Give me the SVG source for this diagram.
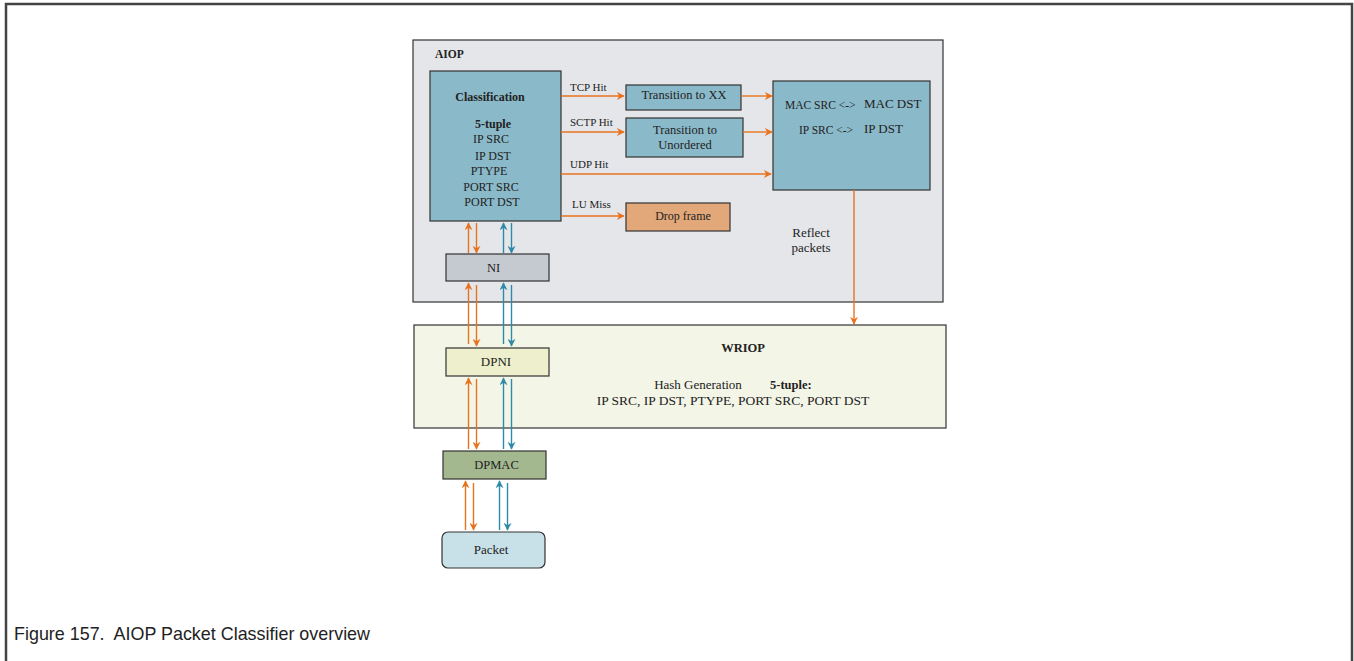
<svg xmlns="http://www.w3.org/2000/svg" width="1354" height="661" viewBox="0 0 1354 661">
<style>
.t{font-family:"Liberation Serif","Times New Roman",serif;fill:#222}
.b{font-weight:bold}
.box{stroke:#333;stroke-width:1.2}
.or{stroke:#e8731f;stroke-width:1.4;fill:none}
.bl{stroke:#2f8aa8;stroke-width:1.4;fill:none}
</style>
<defs>
<marker id="ao" viewBox="0 0 10 10" refX="9" refY="5" markerWidth="8" markerHeight="8" orient="auto" markerUnits="userSpaceOnUse"><path d="M0,0 L10,5 L0,10 L3,5 z" fill="#e8731f"/></marker>
<marker id="ab" viewBox="0 0 10 10" refX="9" refY="5" markerWidth="8" markerHeight="8" orient="auto" markerUnits="userSpaceOnUse"><path d="M0,0 L10,5 L0,10 L3,5 z" fill="#2f8aa8"/></marker>
</defs>
<rect width="1354" height="661" fill="#fff"/>
<path d="M6,661 V4 H1352 V661" fill="none" stroke="#444" stroke-width="2.5"/>

<g id="aiop">
<rect class="box" x="413" y="40" width="530" height="262" fill="#e5e6ea"/>
<text class="t b" x="435" y="58" font-size="11.5">AIOP</text>
</g>
<g id="wriop">
<rect class="box" x="414" y="325" width="532" height="103" fill="#f3f5e6"/>
<text class="t b" x="743" y="352" font-size="12.5" text-anchor="middle">WRIOP</text>
<text class="t" x="698" y="389" font-size="13" text-anchor="middle">Hash Generation</text>
<text class="t b" x="770" y="389" font-size="12.5">5-tuple:</text>
<text class="t" x="733" y="405" font-size="13.5" text-anchor="middle">IP SRC, IP DST, PTYPE, PORT SRC, PORT DST</text>
</g>
<g id="classification">
<rect class="box" x="430" y="71" width="131" height="150" fill="#8ab9c9"/>
<text class="t b" x="490" y="101" font-size="12" text-anchor="middle">Classification</text>
<text class="t b" x="493" y="128" font-size="12" text-anchor="middle">5-tuple</text>
<text class="t" x="491" y="143" font-size="12" text-anchor="middle">IP SRC</text>
<text class="t" x="493" y="160" font-size="12" text-anchor="middle">IP DST</text>
<text class="t" x="489" y="175" font-size="12" text-anchor="middle">PTYPE</text>
<text class="t" x="491" y="191" font-size="12" text-anchor="middle">PORT SRC</text>
<text class="t" x="492" y="206" font-size="12" text-anchor="middle">PORT DST</text>
</g>
<g id="trans-xx">
<rect class="box" x="626" y="85" width="115" height="25" fill="#8ab9c9"/>
<text class="t" x="684" y="99" font-size="12.5" text-anchor="middle">Transition to XX</text>
</g>
<g id="trans-unordered">
<rect class="box" x="626" y="118" width="117" height="39" fill="#8ab9c9"/>
<text class="t" x="685" y="134" font-size="12.5" text-anchor="middle">Transition to</text>
<text class="t" x="685" y="149" font-size="12.5" text-anchor="middle">Unordered</text>
</g>
<g id="drop-frame">
<rect class="box" x="626" y="203" width="104" height="28" fill="#e3a87a"/>
<text class="t" x="683" y="220" font-size="12" text-anchor="middle">Drop frame</text>
</g>
<g id="swap">
<rect class="box" x="773" y="81" width="157" height="109" fill="#8ab9c9"/>
<text class="t" x="785" y="109" font-size="11.5">MAC SRC &lt;-&gt;</text>
<text class="t" x="864" y="108" font-size="13">MAC DST</text>
<text class="t" x="799" y="134" font-size="11.5">IP SRC &lt;-&gt;</text>
<text class="t" x="864" y="133" font-size="13">IP DST</text>
</g>
<g id="reflect-label">
<text class="t" x="811" y="237" font-size="13" text-anchor="middle">Reflect</text>
<text class="t" x="811" y="252" font-size="13" text-anchor="middle">packets</text>
</g>
<g id="ni">
<rect class="box" x="446" y="254" width="103" height="27" fill="#c5c9d0"/>
<text class="t" x="493.5" y="272" font-size="12.5" text-anchor="middle">NI</text>
</g>
<g id="dpni">
<rect class="box" x="446" y="348" width="103" height="28" fill="#eef0cd"/>
<text class="t" x="496" y="366" font-size="13" text-anchor="middle">DPNI</text>
</g>
<g id="dpmac">
<rect class="box" x="443" y="451" width="103" height="28" fill="#a3b88f"/>
<text class="t" x="496.5" y="469" font-size="12.5" text-anchor="middle">DPMAC</text>
</g>
<g id="packet">
<rect class="box" x="442" y="532" width="103" height="36" rx="6" fill="#c8e1e9"/>
<text class="t" x="491" y="554" font-size="13" text-anchor="middle">Packet</text>
</g>

<g id="connectors">
<line class="or" x1="561" y1="96" x2="624" y2="96" marker-end="url(#ao)"/>
<line class="or" x1="561" y1="132" x2="624" y2="132" marker-end="url(#ao)"/>
<line class="or" x1="561" y1="174" x2="771" y2="174" marker-end="url(#ao)"/>
<line class="or" x1="561" y1="216" x2="624" y2="216" marker-end="url(#ao)"/>
<line class="or" x1="741" y1="96" x2="772" y2="96" marker-end="url(#ao)"/>
<line class="or" x1="743" y1="132" x2="772" y2="132" marker-end="url(#ao)"/>
<line class="or" x1="854" y1="190" x2="854" y2="324" marker-end="url(#ao)"/>
<text class="t" x="570" y="91" font-size="11">TCP Hit</text>
<text class="t" x="570" y="126" font-size="11">SCTP Hit</text>
<text class="t" x="570" y="168" font-size="11">UDP Hit</text>
<text class="t" x="572" y="208" font-size="11">LU Miss</text>

<line class="or" x1="468.5" y1="253" x2="468.5" y2="223" marker-end="url(#ao)"/>
<line class="or" x1="476.5" y1="223" x2="476.5" y2="253" marker-end="url(#ao)"/>
<line class="bl" x1="503.5" y1="253" x2="503.5" y2="223" marker-end="url(#ab)"/>
<line class="bl" x1="511.5" y1="223" x2="511.5" y2="253" marker-end="url(#ab)"/>

<line class="or" x1="468.5" y1="344" x2="468.5" y2="283" marker-end="url(#ao)"/>
<line class="or" x1="476.5" y1="285" x2="476.5" y2="346" marker-end="url(#ao)"/>
<line class="bl" x1="503.5" y1="344" x2="503.5" y2="283" marker-end="url(#ab)"/>
<line class="bl" x1="511.5" y1="285" x2="511.5" y2="346" marker-end="url(#ab)"/>

<line class="or" x1="468.5" y1="449" x2="468.5" y2="378" marker-end="url(#ao)"/>
<line class="or" x1="476.5" y1="379" x2="476.5" y2="449" marker-end="url(#ao)"/>
<line class="bl" x1="503.5" y1="449" x2="503.5" y2="378" marker-end="url(#ab)"/>
<line class="bl" x1="511.5" y1="379" x2="511.5" y2="449" marker-end="url(#ab)"/>

<line class="or" x1="465.5" y1="530" x2="465.5" y2="481" marker-end="url(#ao)"/>
<line class="or" x1="473.5" y1="483" x2="473.5" y2="530" marker-end="url(#ao)"/>
<line class="bl" x1="499.5" y1="530" x2="499.5" y2="481" marker-end="url(#ab)"/>
<line class="bl" x1="507.5" y1="483" x2="507.5" y2="530" marker-end="url(#ab)"/>
</g>

<text x="14" y="640" font-family="Liberation Sans,Arial,sans-serif" font-size="19" fill="#222" xml:space="preserve" textLength="356" lengthAdjust="spacingAndGlyphs">Figure 157.  AIOP Packet Classifier overview</text>
</svg>
